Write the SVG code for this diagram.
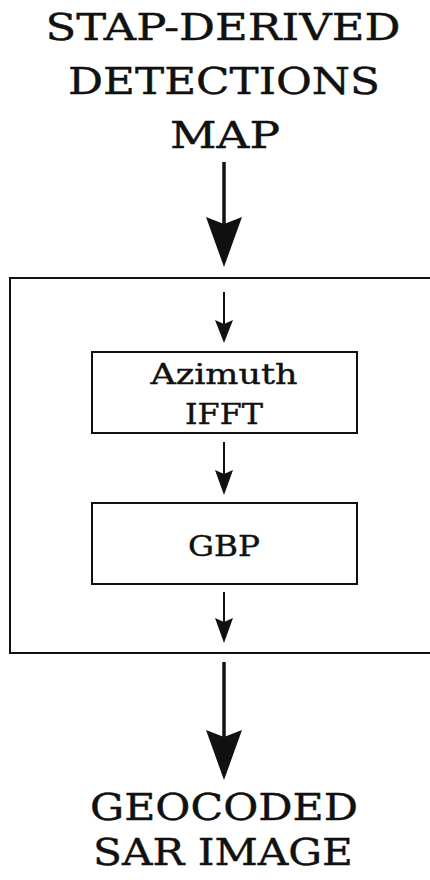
<svg xmlns="http://www.w3.org/2000/svg" width="430" height="880" viewBox="0 0 430 880">
<style>
.t{font-family:"DejaVu Serif","Liberation Serif",serif;fill:#111;stroke:#111;stroke-width:0.4;text-anchor:middle}
.big{font-size:37px}
.sm{font-size:28px}
.box{fill:#fff;stroke:#111;stroke-width:2}
.ln{stroke:#111;fill:none}
.hd{fill:#111}
</style>
<rect width="430" height="880" fill="#fff"/>
<g id="title">
<text class="t big" x="223" y="40" textLength="355" lengthAdjust="spacingAndGlyphs">STAP-DERIVED</text>
<text class="t big" x="224" y="94" textLength="312" lengthAdjust="spacingAndGlyphs">DETECTIONS</text>
<text class="t big" x="225" y="148" textLength="110" lengthAdjust="spacingAndGlyphs">MAP</text>
</g>
<g id="outer">
<rect class="box" x="10" y="278" width="430" height="375"/>
</g>
<g id="azimuth">
<rect class="box" x="92" y="352" width="265" height="81"/>
<text class="t sm" x="224" y="384" textLength="147" lengthAdjust="spacingAndGlyphs">Azimuth</text>
<text class="t sm" x="224" y="424" textLength="78" lengthAdjust="spacingAndGlyphs">IFFT</text>
</g>
<g id="gbp">
<rect class="box" x="92" y="503" width="265" height="81"/>
<text class="t sm" x="224" y="556" textLength="72" lengthAdjust="spacingAndGlyphs">GBP</text>
</g>
<g id="output">
<text class="t big" x="224" y="820" textLength="268" lengthAdjust="spacingAndGlyphs">GEOCODED</text>
<text class="t big" x="223" y="865" textLength="260" lengthAdjust="spacingAndGlyphs">SAR IMAGE</text>
</g>
<g id="connectors">
<line class="ln" x1="224" y1="162" x2="224" y2="225" stroke-width="3.5"/>
<path class="hd" d="M206,217 L224,224 L242,217 L224,267 Z"/>
<line class="ln" x1="224" y1="292" x2="224" y2="325" stroke-width="2"/>
<path class="hd" d="M215,320 L224,324 L233,320 L224,343 Z"/>
<line class="ln" x1="224" y1="442" x2="224" y2="475" stroke-width="2"/>
<path class="hd" d="M215,470 L224,474 L233,470 L224,495 Z"/>
<line class="ln" x1="224" y1="592" x2="224" y2="623" stroke-width="2"/>
<path class="hd" d="M215,618 L224,622 L233,618 L224,643 Z"/>
<line class="ln" x1="224" y1="662" x2="224" y2="738" stroke-width="3.5"/>
<path class="hd" d="M206,730 L224,737 L242,730 L224,780 Z"/>
</g>
</svg>
